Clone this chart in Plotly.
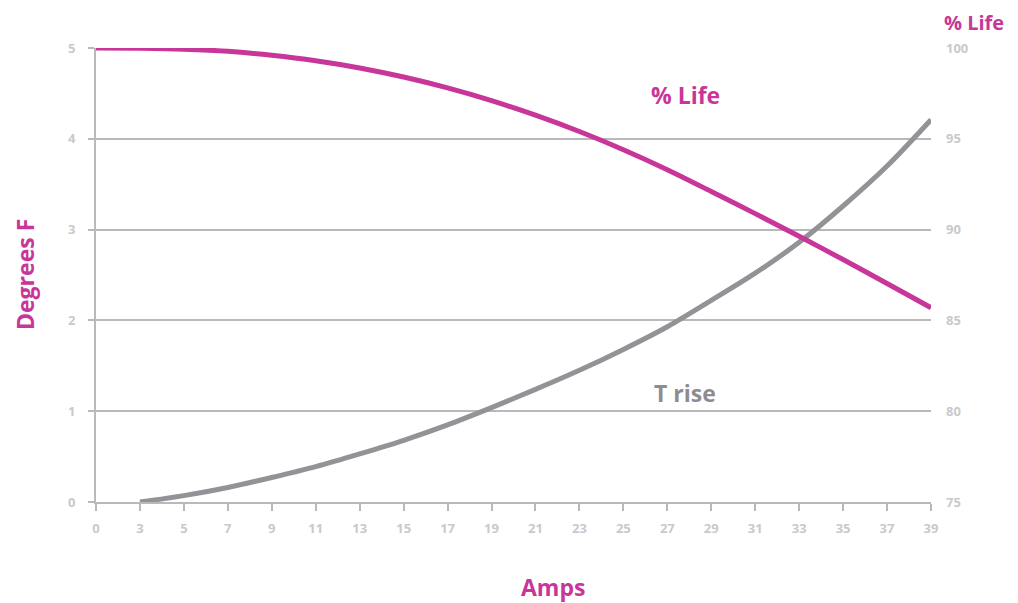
import plotly.graph_objects as go

amps = ["0", "3", "5", "7", "9", "11", "13", "15", "17", "19", "21",
        "23", "25", "27", "29", "31", "33", "35", "37", "39"]
t_rise_amps = amps[1:]
t_rise = [0.0, 0.07, 0.16, 0.27, 0.39, 0.53, 0.68, 0.85, 1.04, 1.24,
          1.45, 1.68, 1.93, 2.22, 2.52, 2.86, 3.26, 3.70, 4.21]
life = [100.0, 99.98, 99.93, 99.82, 99.6, 99.3, 98.9, 98.4, 97.8, 97.1,
        96.3, 95.4, 94.4, 93.3, 92.1, 90.88, 89.63, 88.35, 87.03, 85.7]
left_ticks = [0, 1, 2, 3, 4, 5]
right_ticks = [75, 80, 85, 90, 95, 100]

MAG = "#c8369a"
GRAY = "#939397"
AX = "#b9b9bb"
TXT = "#c9c9cd"
FONT = "Open Sans"

# page has an 8px body margin; figure is sized to fit the 1018x603 window
W, H = 1010, 595
OFF = 8
L, T = 96 - OFF, 48 - OFF
PW, PH = 835, 454
R = W - L - PW
B = H - T - PH

fig = go.Figure()
fig.add_trace(go.Scatter(x=t_rise_amps, y=t_rise, mode="lines",
                         line=dict(color=GRAY, width=5, shape="spline",
                                   smoothing=0.8),
                         yaxis="y", showlegend=False))
fig.add_trace(go.Scatter(x=amps, y=life, mode="lines",
                         line=dict(color=MAG, width=5, shape="spline",
                                   smoothing=0.8),
                         yaxis="y2", showlegend=False))

tick_font = dict(family=FONT, color=TXT, size=13, weight="bold")

fig.update_layout(
    width=W, height=H,
    margin=dict(l=L, r=R, t=T, b=B, pad=0),
    paper_bgcolor="white", plot_bgcolor="white",
    font=dict(family=FONT, color=TXT, size=13),
    xaxis=dict(type="category", categoryorder="array", categoryarray=amps,
               range=[0, 19], showgrid=False, showline=True, linecolor=AX,
               linewidth=2, ticks="outside", ticklen=7, tickwidth=2,
               tickcolor=AX, tickfont=tick_font,
               ticklabelstandoff=6, zeroline=False),
    yaxis=dict(range=[0, 5], tickvals=left_ticks, showgrid=True,
               gridcolor=AX, gridwidth=2, showline=True, linecolor=AX,
               linewidth=2, ticks="outside", ticklen=6, tickwidth=2,
               tickcolor=AX, zeroline=False, ticklabelstandoff=10,
               tickfont=tick_font),
    yaxis2=dict(range=[75, 100], tickvals=right_ticks, overlaying="y",
                side="right", showgrid=False, showline=False, zeroline=False,
                ticks="", ticklabelstandoff=14, tickfont=tick_font),
)

title_font = dict(family=FONT, size=23, color=MAG, weight="bold")
# (text, page x, page y, xanchor, angle, font)
labels = [
    ("Degrees F", 25, 275, "center", -90, title_font),
    ("Amps", 553, 587, "center", 0, title_font),
    ("% Life", 1006, 23, "right", 0,
     dict(family=FONT, size=20, color=MAG, weight="bold")),
    ("% Life", 685, 95, "center", 0, title_font),
    ("T rise", 685, 393, "center", 0,
     dict(family=FONT, size=23, color="#8d8d91", weight="bold")),
]
for text, px, py, xa, ang, f in labels:
    fig.add_annotation(text=text, xref="paper", yref="paper",
                       x=(px - OFF - L) / PW, y=1 - (py - OFF - T) / PH,
                       xanchor=xa, yanchor="middle", textangle=ang,
                       showarrow=False, font=f)

fig.write_html("out.html")
